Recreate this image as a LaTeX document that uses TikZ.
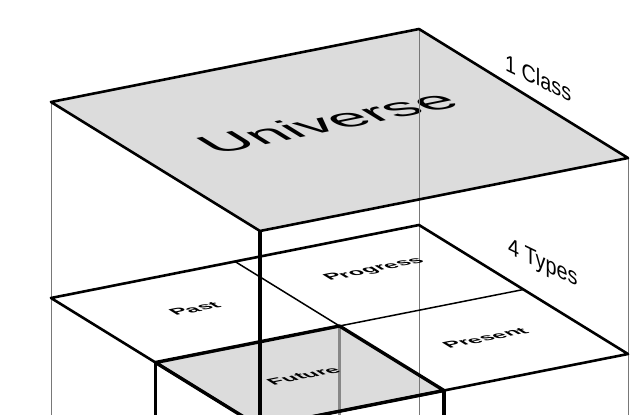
\documentclass[tikz,border=0pt]{standalone}
\usepackage{fontspec}
\setmainfont{Liberation Sans}
\usepackage{tikz}
\usetikzlibrary{calc}
\definecolor{facegray}{RGB}{220,220,220}
\definecolor{edgegray}{RGB}{120,120,120}
\definecolor{hiddengray}{RGB}{135,135,135}

\begin{document}
\begin{tikzpicture}[x=1pt, y=1pt,
    rim/.style={draw=black, line width=#1, line join=round},
    gridline/.style={draw=black, line width=1.5pt},
    riser/.style={draw=edgegray, line width=1pt},
    post/.style={draw=black, line width=3.2pt},
    hidden/.style={draw=hiddengray, line width=2.4pt},
    flatlabel/.style={transform shape, inner sep=0pt, font=\fontsize{#1}{#1}\selectfont},
    flatbold/.style={transform shape, inner sep=0pt, font=\fontsize{#1}{#1}\selectfont\bfseries},
    sidelabel/.style={transform shape, inner sep=0pt, anchor=base west,
                      font=\fontsize{22}{22}\selectfont}
]
\useasboundingbox (0,0) rectangle (643,-415);
\clip (0,0) rectangle (643,-415);
\coordinate (floor) at (0,-430);

% Top layer (1 class)
\begin{scope}[cm={3.68,0.73,-2.09,1.29,(260,-231)}]
  \coordinate (topF) at (0,0);
  \coordinate (topR) at (100,0);
  \coordinate (topB) at (100,100);
  \coordinate (topL) at (0,100);
  \fill[facegray] (topF) -- (topR) -- (topB) -- (topL) -- cycle;
  \node[flatlabel=17] (universe) at (50,56) {Universe};
\end{scope}

% Middle layer (4 types)
\begin{scope}[cm={3.68,0.73,-2.09,1.29,(260,-427)}]
  \coordinate (midF) at (0,0);
  \coordinate (midR) at (100,0);
  \coordinate (midB) at (100,100);
  \coordinate (midL) at (0,100);
  \coordinate (midC) at (50,50);
  \coordinate (midBL) at (50,100);
  \coordinate (midBR) at (100,50);
  \coordinate (midFL) at (0,50);
  \coordinate (midFR) at (50,0);
  \fill[facegray] (midF) -- (midFR) -- (midC) -- (midFL) -- cycle;
\end{scope}

% Risers
\draw[riser] (topL) -- (topL |- floor);
\draw[riser] (topB) -- (topB |- floor);
\draw[riser] (topR) -- (topR |- floor);

% Outlines
\draw[rim=2.6pt] (topF) -- (topR) -- (topB) -- (topL) -- cycle;
\draw[rim=2.6pt] (midF) -- (midR) -- (midB) -- (midL) -- cycle;
\draw[gridline] (midBL) -- (midC) -- (midBR);
\draw[hidden] (midC) -- (midC |- floor);
\draw[rim=3.4pt] (midF) -- (midFR) -- (midC) -- (midFL) -- cycle;

% Posts
\draw[post] (topF) -- (topF |- floor);
\draw[post] (midFL) -- (midFL |- floor);
\draw[post] (midFR) -- (midFR |- floor);

% Labels
\begin{scope}[cm={3.68,0.73,-2.09,1.29,(260,-427)}]
  \node[flatbold=6] (past) at (26,77) {Past};
  \node[flatbold=6] (progress) at (76,79) {Progress};
  \node[flatbold=6] (present) at (76,26) {Present};
  \node[flatbold=6] (future) at (26,25) {Future};
\end{scope}
\begin{scope}[shift={(505,-70)}, cm={0.9,-0.435,0,1.08,(0,0)}]
  \node[sidelabel] (oneclass) at (0,0) {1 Class};
\end{scope}
\begin{scope}[shift={(508,-253)}, cm={0.9,-0.435,0,1.08,(0,0)}]
  \node[sidelabel] (fourtypes) at (0,0) {4 Types};
\end{scope}

\end{tikzpicture}
\end{document}
